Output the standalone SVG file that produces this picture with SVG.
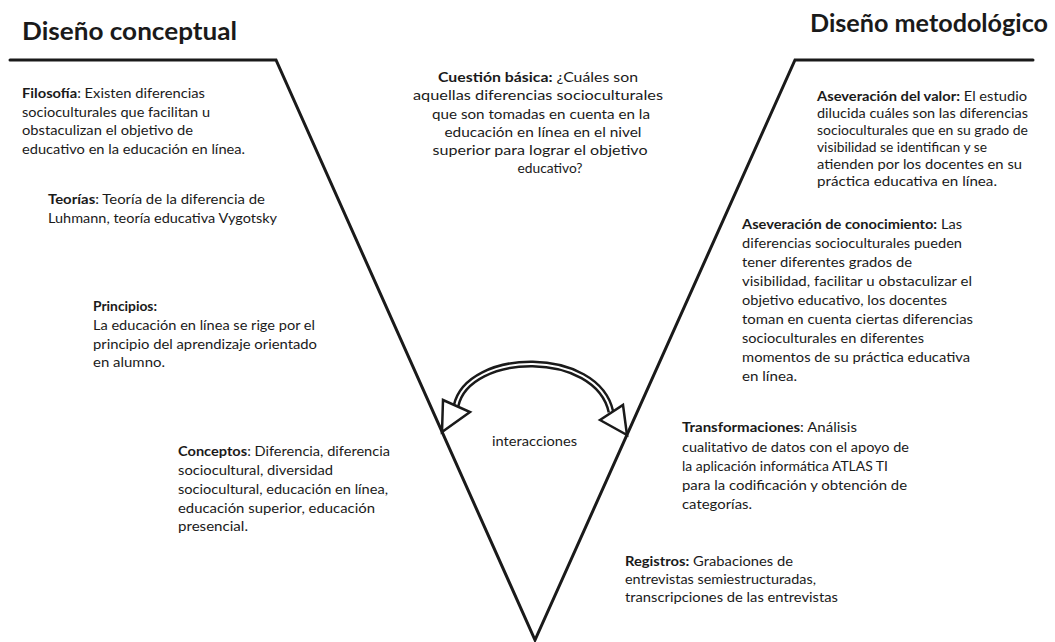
<svg xmlns="http://www.w3.org/2000/svg" width="1055" height="642" viewBox="0 0 1055 642">
<style>
.t{font-family:Lato,"Liberation Sans",sans-serif;font-size:13px;fill:#1a1a1a}
.q{font-family:Lato,"Liberation Sans",sans-serif;font-size:14px;fill:#1a1a1a;text-anchor:middle}
.h{font-family:Lato,"Liberation Sans",sans-serif;font-size:24px;font-weight:bold;fill:#1a1a1a}
.b{font-weight:bold}
.ln{stroke:#1a1a1a;stroke-width:3;fill:none;stroke-linecap:round}
.tri{fill:#fff;stroke:#1a1a1a;stroke-width:2.5;stroke-linejoin:miter}
</style>
<rect width="1055" height="642" fill="#fff"/>
<g id="frame">
<polyline class="ln" points="10,60 276,60 535,640 795,60 1033,60"/>
</g>
<g id="titles">
<text class="h" x="22" y="40" textLength="215" lengthAdjust="spacingAndGlyphs">Diseño conceptual</text>
<text class="h" x="810" y="32" textLength="238" lengthAdjust="spacingAndGlyphs">Diseño metodológico</text>
</g>
<g id="filosofia">
<text class="t" x="22" y="98" textLength="183" lengthAdjust="spacingAndGlyphs"><tspan class="b">Filosofía</tspan>:  Existen diferencias</text>
<text class="t" x="22" y="116.5" textLength="188" lengthAdjust="spacingAndGlyphs">socioculturales que facilitan u</text>
<text class="t" x="22" y="135" textLength="171" lengthAdjust="spacingAndGlyphs">obstaculizan el objetivo de</text>
<text class="t" x="22" y="153.5" textLength="223" lengthAdjust="spacingAndGlyphs">educativo en  la educación en línea.</text>
</g>
<g id="teorias">
<text class="t" x="48" y="204" textLength="217" lengthAdjust="spacingAndGlyphs"><tspan class="b">Teorías</tspan>: Teoría de  la diferencia de</text>
<text class="t" x="48" y="223" textLength="229" lengthAdjust="spacingAndGlyphs">Luhmann, teoría educativa Vygotsky</text>
</g>
<g id="principios">
<text class="t b" x="93" y="311" textLength="64" lengthAdjust="spacingAndGlyphs">Principios:</text>
<text class="t" x="93" y="330" textLength="222" lengthAdjust="spacingAndGlyphs">La educación en línea se rige por el</text>
<text class="t" x="93" y="348.5" textLength="224" lengthAdjust="spacingAndGlyphs">principio del aprendizaje orientado</text>
<text class="t" x="93" y="367" textLength="72" lengthAdjust="spacingAndGlyphs">en alumno.</text>
</g>
<g id="conceptos">
<text class="t" x="178" y="456" textLength="212" lengthAdjust="spacingAndGlyphs"><tspan class="b">Conceptos</tspan>:  Diferencia, diferencia</text>
<text class="t" x="178" y="475" textLength="155" lengthAdjust="spacingAndGlyphs">sociocultural, diversidad</text>
<text class="t" x="178" y="494" textLength="210" lengthAdjust="spacingAndGlyphs">sociocultural, educación en línea,</text>
<text class="t" x="178" y="512.5" textLength="197" lengthAdjust="spacingAndGlyphs">educación superior, educación</text>
<text class="t" x="178" y="531" textLength="70" lengthAdjust="spacingAndGlyphs">presencial.</text>
</g>
<g id="cuestion">
<text class="q" x="538" y="82" textLength="200" lengthAdjust="spacingAndGlyphs"><tspan class="b">Cuestión básica:</tspan> ¿Cuáles son</text>
<text class="q" x="538" y="100" textLength="250" lengthAdjust="spacingAndGlyphs">aquellas diferencias socioculturales</text>
<text class="q" x="541" y="118.5" textLength="218" lengthAdjust="spacingAndGlyphs">que son tomadas en cuenta en la</text>
<text class="q" x="543" y="137" textLength="197" lengthAdjust="spacingAndGlyphs">educación en línea en el nivel</text>
<text class="q" x="540" y="155" textLength="215" lengthAdjust="spacingAndGlyphs">superior para lograr el objetivo</text>
<text class="q" x="550" y="173" textLength="65" lengthAdjust="spacingAndGlyphs">educativo?</text>
</g>
<g id="valor">
<text class="t" x="817" y="101" textLength="210" lengthAdjust="spacingAndGlyphs"><tspan class="b">Aseveración del valor:</tspan> El estudio</text>
<text class="t" x="817" y="118" textLength="211" lengthAdjust="spacingAndGlyphs">dilucida cuáles son las diferencias</text>
<text class="t" x="817" y="135" textLength="211" lengthAdjust="spacingAndGlyphs">socioculturales que en su grado de</text>
<text class="t" x="817" y="152" textLength="170" lengthAdjust="spacingAndGlyphs">visibilidad se identifican y se</text>
<text class="t" x="817" y="169" textLength="205" lengthAdjust="spacingAndGlyphs">atienden por los docentes en su</text>
<text class="t" x="817" y="186" textLength="180" lengthAdjust="spacingAndGlyphs">práctica educativa en línea.</text>
</g>
<g id="conocimiento">
<text class="t" x="742" y="229" textLength="220" lengthAdjust="spacingAndGlyphs"><tspan class="b">Aseveración de conocimiento:</tspan>  Las</text>
<text class="t" x="742" y="248" textLength="220" lengthAdjust="spacingAndGlyphs">diferencias socioculturales pueden</text>
<text class="t" x="742" y="267" textLength="170" lengthAdjust="spacingAndGlyphs">tener diferentes  grados de</text>
<text class="t" x="742" y="286" textLength="230" lengthAdjust="spacingAndGlyphs">visibilidad, facilitar u obstaculizar  el</text>
<text class="t" x="742" y="305" textLength="205" lengthAdjust="spacingAndGlyphs">objetivo educativo, los docentes</text>
<text class="t" x="742" y="324" textLength="231" lengthAdjust="spacingAndGlyphs">toman en  cuenta ciertas diferencias</text>
<text class="t" x="742" y="343" textLength="182" lengthAdjust="spacingAndGlyphs">socioculturales en diferentes</text>
<text class="t" x="742" y="362" textLength="228" lengthAdjust="spacingAndGlyphs">momentos  de su práctica educativa</text>
<text class="t" x="742" y="381" textLength="55" lengthAdjust="spacingAndGlyphs">en  línea.</text>
</g>
<g id="transformaciones">
<text class="t" x="682" y="432" textLength="175" lengthAdjust="spacingAndGlyphs"><tspan class="b">Transformaciones</tspan>:  Análisis</text>
<text class="t" x="682" y="451.5" textLength="227" lengthAdjust="spacingAndGlyphs">cualitativo de datos con el apoyo de</text>
<text class="t" x="682" y="471" textLength="206" lengthAdjust="spacingAndGlyphs">la aplicación informática ATLAS  TI</text>
<text class="t" x="682" y="490" textLength="225" lengthAdjust="spacingAndGlyphs">para la codificación y obtención de</text>
<text class="t" x="682" y="509" textLength="70" lengthAdjust="spacingAndGlyphs">categorías.</text>
</g>
<g id="registros">
<text class="t" x="625" y="566" textLength="168" lengthAdjust="spacingAndGlyphs"><tspan class="b">Registros:</tspan> Grabaciones de</text>
<text class="t" x="625" y="584" textLength="191" lengthAdjust="spacingAndGlyphs">entrevistas semiestructuradas,</text>
<text class="t" x="625" y="602" textLength="213" lengthAdjust="spacingAndGlyphs">transcripciones de las entrevistas</text>
</g>
<g id="connectors">
<path d="M456,406 C468,350 597,348 611,412" fill="none" stroke="#1a1a1a" stroke-width="7"/>
<path d="M456,406 C468,350 597,348 611,412" fill="none" stroke="#fff" stroke-width="2"/>
<polygon class="tri" points="443,400 470,412 442,432"/>
<polygon class="tri" points="600,420 623,405 627,435"/>
</g>
<g id="interacciones">
<text class="t" x="492" y="446" textLength="85" lengthAdjust="spacingAndGlyphs">interacciones</text>
</g>
</svg>
